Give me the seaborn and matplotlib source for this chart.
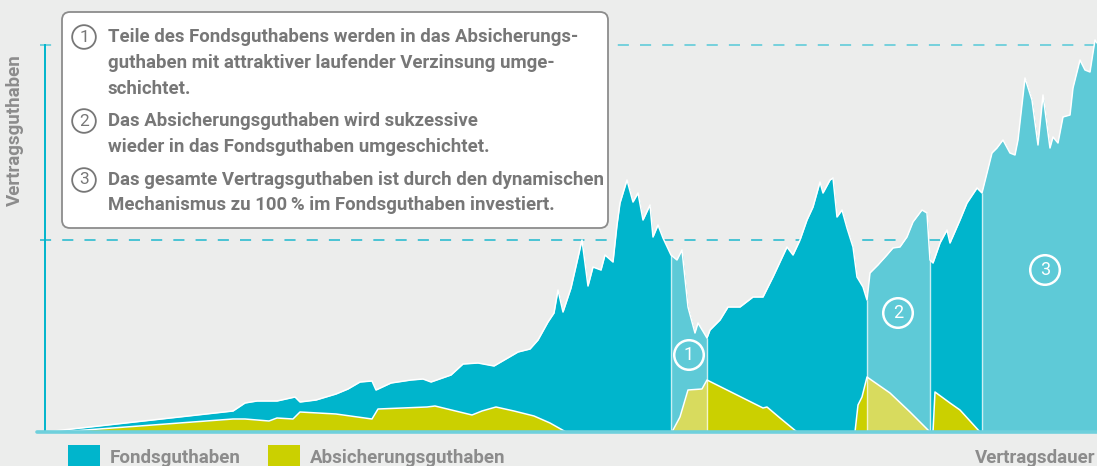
import numpy as np
import pandas as pd
import seaborn as sns
import matplotlib.pyplot as plt
from matplotlib.patches import FancyBboxPatch, Rectangle

# --- data (Vertragsdauer in arbitrary steps, Guthaben in arbitrary units) ---
total_t = [0, 188, 200, 212, 232, 250, 255, 271, 291, 303, 315, 327, 331, 346, 366, 378,
           386, 406, 418, 433, 449, 461, 473, 485, 493, 503, 509, 513, 518, 526, 537, 543,
           548, 556, 560, 568, 572, 575, 582, 588, 593, 598, 605, 608, 613, 618, 626, 632,
           637, 643, 650, 653, 662, 665, 675, 683, 695, 708, 718, 728, 742, 748, 755, 762,
           768, 775, 778, 785, 788, 792, 797, 802, 808, 812, 818, 822, 825, 833, 842, 848,
           855, 862, 868, 877, 882, 885, 888, 895, 902, 905, 915, 922, 932, 937, 942, 947,
           952, 958, 965, 970, 973, 980, 987, 993, 998, 1005, 1008, 1013, 1018, 1025, 1028,
           1035, 1040, 1045, 1050, 1052]
total_val = [0, 21, 29, 31, 31, 35, 30, 32, 38, 43, 50, 51, 42, 49, 52, 53,
             50, 57, 68, 69, 66, 73, 80, 83, 92, 110, 119, 142, 120, 144, 192, 146,
             165, 162, 177, 170, 207, 229, 252, 230, 239, 212, 227, 195, 207, 194, 177, 172,
             182, 125, 99, 109, 94, 102, 112, 125, 125, 135, 135, 155, 185, 177, 192, 212,
             225, 250, 239, 252, 254, 215, 222, 204, 185, 155, 145, 132, 159, 167, 177, 184,
             185, 195, 210, 222, 219, 172, 169, 189, 202, 189, 212, 229, 244, 239, 259, 279,
             284, 292, 279, 277, 292, 354, 332, 287, 337, 284, 295, 289, 315, 317, 344,
             372, 362, 360, 392, 389]

safe_t = [0, 14, 188, 200, 224, 232, 248, 255, 291, 327, 333, 382, 390, 427, 437, 451,
          469, 489, 505, 521, 627, 635, 643, 657, 662, 688, 698, 718, 722, 735, 752, 810,
          813, 817, 822, 845, 865, 885, 888, 890, 905, 915, 935, 1052]
safe_val = [0, 0, 13, 13, 11, 14, 13, 20, 18, 13, 23, 25, 26, 17, 21, 25,
            21, 16, 9, 0, 0, 15, 42, 43, 52, 39, 34, 24, 25, 14, 0, 0,
            27, 35, 55, 39, 20, 0, 0, 40, 29, 22, 0, 0]

phases = [(626, 662), (822, 885), (937, 1052)]
phase_labels = ['1', '2', '3']
levels = [192, 387]

notes = [
    ('1', ['Teile des Fondsguthabens werden in das Absicherungs-',
           'guthaben mit attraktiver laufender Verzinsung umge-',
           'schichtet.']),
    ('2', ['Das Absicherungsguthaben wird sukzessive',
           'wieder in das Fondsguthaben umgeschichtet.']),
    ('3', ['Das gesamte Vertragsguthaben ist durch den dynamischen',
           'Mechanismus zu 100\u2009% im Fondsguthaben investiert.']),
]
legend_labels = ['Fondsguthaben', 'Absicherungsguthaben']

BG = '#ecedec'
TEAL = '#00b5cc'
TEAL_L = '#5ecad7'
GREEN = '#cbd000'
GREEN_L = '#d8db5e'
GREY = '#8c8c8c'
TXT = '#777777'

sns.set_theme(style='white')
plt.rcParams['font.family'] = ['Roboto', 'DejaVu Sans']
plt.rcParams['lines.scale_dashes'] = False

W, H = 1097, 466
fig = plt.figure(figsize=(W / 100, H / 100), dpi=100, facecolor=BG)
ax = fig.add_axes([45 / W, 34 / H, 1052 / W, 432 / H])
ax.patch.set_alpha(0)
ax.set_xlim(0, 1052)
ax.set_ylim(0, 432)

tot = pd.DataFrame({'t': total_t, 'wert': total_val})
saf = pd.DataFrame({'t': safe_t, 'wert': safe_val})

for lv in levels:
    ax.axhline(lv, xmin=-5 / 1052, xmax=1, color='#3cc0d2' if lv < 300 else '#6ccfdb',
               lw=1.3, dashes=(8, 8), clip_on=False, zorder=1)

ax.fill_between(tot['t'], 0, tot['wert'], color=TEAL, lw=0, zorder=2)
for a, b in phases:
    m = (tot['t'] >= a) & (tot['t'] <= b)
    ax.fill_between(tot['t'], 0, tot['wert'], where=m, color=TEAL_L, lw=0, zorder=3)

ax.fill_between(saf['t'], 0, saf['wert'], color=GREEN, lw=0, zorder=4)
for a, b in phases[:2]:
    m = (saf['t'] >= a) & (saf['t'] <= b)
    ax.fill_between(saf['t'], 0, saf['wert'], where=m, color=GREEN_L, lw=0, zorder=5)

sns.lineplot(data=tot, x='t', y='wert', color='white', lw=1.1, estimator=None,
             sort=False, ax=ax, zorder=6)
sns.lineplot(data=saf, x='t', y='wert', color='white', lw=1.1, estimator=None,
             sort=False, ax=ax, zorder=6)

bounds = [p for ph in phases for p in ph][:-1]
tops = tot.set_index('t').loc[bounds, 'wert'].values
ax.vlines(bounds, 0, tops, color='white', lw=1.0, alpha=0.75, zorder=6)

ax.axhline(0, xmin=-8 / 1052, xmax=1, color='#6fd0dc', lw=2.6, clip_on=False, zorder=7)

label_pos = [(644, 77), (853, 119), (1000, 162)]
for (xc, yc), lab in zip(label_pos, phase_labels):
    ax.text(xc, yc, lab, color='white', fontsize=13, ha='center', va='center', zorder=8,
            bbox=dict(boxstyle='circle,pad=0.32', fc='none', ec='white', lw=1.8))

for s in ['top', 'right', 'bottom']:
    ax.spines[s].set_visible(False)
ax.spines['left'].set_bounds(0, 387)
ax.spines['left'].set_color(TEAL)
ax.spines['left'].set_linewidth(1.4)
ax.spines['left'].set_zorder(1.5)
ax.set_xticks([])
ax.set_yticks([])
ax.set_xlabel('')
ax.set_ylabel('')

# annotation box
box = FancyBboxPatch((17, 204), 546, 216, boxstyle='round,pad=0,rounding_size=8',
                     fc='white', ec=GREY, lw=1.3, zorder=10)
ax.add_patch(box)
ys = iter([395, 369, 343, 311, 285, 252, 227])
for num, lines in notes:
    first = True
    for line in lines:
        y = next(ys)
        if first:
            ax.text(39, y, num, color=TXT, fontsize=12.5, ha='center', va='center',
                    zorder=11,
                    bbox=dict(boxstyle='circle,pad=0.25', fc='white', ec=TXT, lw=1.3))
            first = False
        ax.text(63, y, line, color=TXT, fontsize=13.4, ha='left', va='center',
                fontweight='bold', zorder=11)

# axis titles
fig.text(15 / W, 1 - 130 / H, 'Vertragsguthaben', rotation=90, color=GREY,
         fontsize=13.5, fontweight='bold', ha='center', va='center')
fig.text(1095 / W, 1 - 458 / H, 'Vertragsdauer', color=GREY, fontsize=13.5,
         fontweight='bold', ha='right', va='center')

# legend
for x0, col, lab in [(68, TEAL, legend_labels[0]), (268, GREEN, legend_labels[1])]:
    fig.patches.append(Rectangle((x0 / W, 0), 32 / W, 21 / H, transform=fig.transFigure,
                                 fc=col, ec='none'))
    fig.text((x0 + 42) / W, 1 - 458 / H, lab, color=GREY, fontsize=13.5,
             fontweight='bold', ha='left', va='center')

fig.savefig('out.png', dpi=100, facecolor=BG)
